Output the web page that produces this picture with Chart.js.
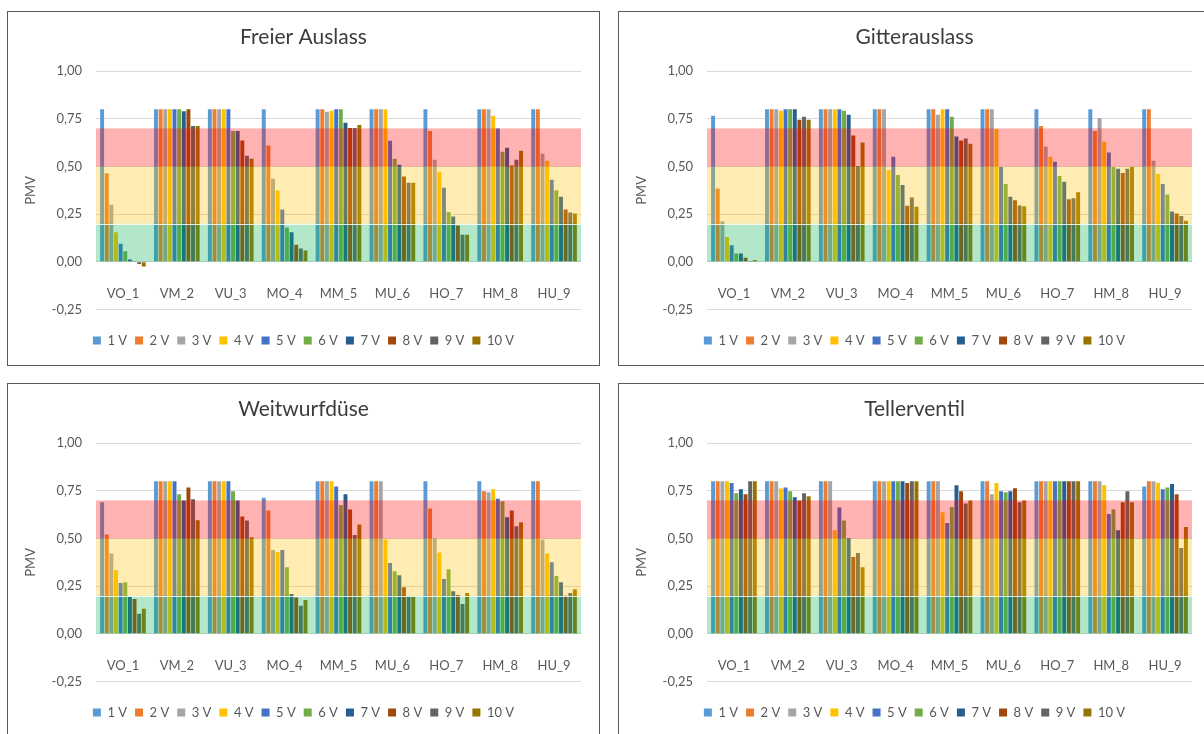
<!DOCTYPE html>
<html>
<head>
<meta charset="utf-8">
<script src="https://cdn.jsdelivr.net/npm/chart.js@4.4.0/dist/chart.umd.min.js"></script>
<style>
  html, body { margin: 0; padding: 0; background: #ffffff; }
  body { width: 1204px; height: 734px; overflow: hidden; position: relative; }
  .panel { position: absolute; width: 593px; height: 355px; box-sizing: border-box; border: 1px solid #595959; background: #fff; }
  .panel canvas { display: block; }
</style>
</head>
<body>
<div class="panel" style="left:7px;top:11px"><canvas id="c1" width="591" height="353"></canvas></div>
<div class="panel" style="left:618px;top:11px"><canvas id="c2" width="591" height="353"></canvas></div>
<div class="panel" style="left:7px;top:383px"><canvas id="c3" width="591" height="353"></canvas></div>
<div class="panel" style="left:618px;top:383px"><canvas id="c4" width="591" height="353"></canvas></div>
<script>
// ---------- data ----------
const categories = ['VO_1', 'VM_2', 'VU_3', 'MO_4', 'MM_5', 'MU_6', 'HO_7', 'HM_8', 'HU_9'];
const seriesNames = ['1 V', '2 V', '3 V', '4 V', '5 V', '6 V', '7 V', '8 V', '9 V', '10 V'];
const yTickLabels = ['-0,25', '0,00', '0,25', '0,50', '0,75', '1,00'];
const zoneLimits = [0, 0.2, 0.5, 0.7];

// rows = categories, columns = 1 V ... 10 V
const freierAuslass = [
  [0.80, 0.465, 0.30, 0.155, 0.095, 0.055, 0.012, 0.004, -0.012, -0.025],
  [0.80, 0.80, 0.80, 0.80, 0.80, 0.80, 0.79, 0.80, 0.713, 0.713],
  [0.80, 0.80, 0.80, 0.80, 0.80, 0.686, 0.686, 0.636, 0.557, 0.541],
  [0.80, 0.61, 0.436, 0.374, 0.275, 0.18, 0.155, 0.09, 0.07, 0.06],
  [0.80, 0.80, 0.787, 0.793, 0.80, 0.80, 0.729, 0.702, 0.702, 0.718],
  [0.80, 0.80, 0.80, 0.80, 0.635, 0.541, 0.509, 0.447, 0.415, 0.415],
  [0.80, 0.686, 0.535, 0.473, 0.388, 0.262, 0.238, 0.19, 0.142, 0.142],
  [0.80, 0.80, 0.80, 0.766, 0.70, 0.578, 0.599, 0.505, 0.535, 0.583],
  [0.80, 0.80, 0.567, 0.530, 0.431, 0.376, 0.342, 0.275, 0.259, 0.254]
];
const gitterauslass = [
  [0.766, 0.385, 0.213, 0.13, 0.087, 0.044, 0.044, 0.021, 0.005, 0.01],
  [0.80, 0.80, 0.80, 0.793, 0.80, 0.80, 0.80, 0.745, 0.761, 0.745],
  [0.80, 0.80, 0.80, 0.80, 0.80, 0.793, 0.771, 0.663, 0.503, 0.626],
  [0.80, 0.80, 0.80, 0.482, 0.551, 0.456, 0.403, 0.294, 0.337, 0.289],
  [0.80, 0.80, 0.771, 0.80, 0.80, 0.761, 0.658, 0.636, 0.647, 0.62],
  [0.80, 0.80, 0.80, 0.697, 0.498, 0.408, 0.342, 0.323, 0.296, 0.291],
  [0.80, 0.713, 0.605, 0.551, 0.525, 0.45, 0.42, 0.328, 0.333, 0.365],
  [0.80, 0.686, 0.755, 0.63, 0.573, 0.498, 0.488, 0.466, 0.488, 0.498],
  [0.80, 0.80, 0.53, 0.461, 0.408, 0.353, 0.264, 0.254, 0.241, 0.216]
];
const weitwurfduese = [
  [0.69, 0.521, 0.422, 0.335, 0.266, 0.271, 0.193, 0.183, 0.105, 0.131],
  [0.80, 0.80, 0.80, 0.80, 0.80, 0.732, 0.70, 0.768, 0.706, 0.596],
  [0.80, 0.80, 0.80, 0.80, 0.80, 0.748, 0.70, 0.615, 0.594, 0.507],
  [0.714, 0.647, 0.44, 0.429, 0.44, 0.349, 0.209, 0.19, 0.147, 0.177],
  [0.80, 0.80, 0.80, 0.80, 0.773, 0.674, 0.732, 0.652, 0.518, 0.574],
  [0.80, 0.80, 0.80, 0.495, 0.371, 0.328, 0.307, 0.245, 0.199, 0.199],
  [0.80, 0.658, 0.502, 0.427, 0.287, 0.339, 0.223, 0.204, 0.156, 0.214],
  [0.80, 0.748, 0.743, 0.759, 0.709, 0.695, 0.612, 0.647, 0.564, 0.585],
  [0.80, 0.80, 0.493, 0.422, 0.376, 0.303, 0.271, 0.20, 0.214, 0.234]
];
const tellerventil = [
  [0.80, 0.80, 0.80, 0.80, 0.791, 0.738, 0.759, 0.732, 0.80, 0.80],
  [0.80, 0.80, 0.80, 0.762, 0.768, 0.748, 0.716, 0.70, 0.738, 0.722],
  [0.80, 0.80, 0.80, 0.543, 0.663, 0.594, 0.502, 0.403, 0.424, 0.349],
  [0.80, 0.80, 0.80, 0.80, 0.80, 0.80, 0.80, 0.791, 0.80, 0.80],
  [0.80, 0.80, 0.80, 0.638, 0.582, 0.665, 0.78, 0.748, 0.684, 0.70],
  [0.80, 0.80, 0.732, 0.791, 0.748, 0.743, 0.748, 0.764, 0.69, 0.70],
  [0.80, 0.80, 0.80, 0.80, 0.80, 0.80, 0.80, 0.80, 0.80, 0.80],
  [0.80, 0.80, 0.80, 0.78, 0.628, 0.654, 0.543, 0.69, 0.748, 0.69],
  [0.773, 0.80, 0.80, 0.793, 0.759, 0.768, 0.786, 0.732, 0.45, 0.56]
];

// ---------- styles ----------
const seriesColors = ['#5B9BD5', '#ED7D31', '#A5A5A5', '#FFC000', '#4472C4', '#70AD47', '#255E91', '#9E480E', '#636363', '#997300'];
const zoneColors = ['rgba(0,176,80,0.3)', 'rgba(255,192,0,0.3)', 'rgba(255,0,0,0.3)'];
const FONT = 'Lato, "Open Sans", sans-serif';
const TEXT = '#595959';

const zonePlugin = {
  id: 'zones',
  afterDatasetsDraw(chart) {
    const { ctx, chartArea: a, scales: { y } } = chart;
    ctx.save();
    for (let i = 0; i < zoneColors.length; i++) {
      const yb = y.getPixelForValue(zoneLimits[i]);
      const yt = y.getPixelForValue(zoneLimits[i + 1]);
      ctx.fillStyle = zoneColors[i];
      ctx.fillRect(a.left, yt, a.right - a.left, yb - yt);
    }
    const yw = Math.round(y.getPixelForValue(zoneLimits[1])) + 0.5;
    ctx.strokeStyle = 'rgba(255,255,255,0.85)';
    ctx.lineWidth = 1;
    ctx.beginPath();
    ctx.moveTo(a.left, yw);
    ctx.lineTo(a.right, yw);
    ctx.stroke();
    ctx.restore();
  }
};

function makeChart(id, title, rows) {
  const datasets = seriesNames.map((name, s) => ({
    label: name,
    data: rows.map(r => r[s]),
    backgroundColor: seriesColors[s],
    borderWidth: 0,
    categoryPercentage: 0.86,
    barPercentage: 0.85
  }));
  return new Chart(document.getElementById(id), {
    type: 'bar',
    data: { labels: categories, datasets },
    options: {
      responsive: false,
      animation: false,
      devicePixelRatio: 1,
      layout: { padding: { left: 8, right: 8, top: 0, bottom: 8 } },
      plugins: {
        title: {
          display: true, text: title, color: '#3c3c3c',
          font: { family: FONT, size: 21, weight: 'normal' },
          padding: { top: 13, bottom: 21 }
        },
        legend: {
          position: 'bottom',
          title: { display: true, text: '', padding: 0, font: { family: FONT, size: 13, lineHeight: 1.27 } },
          labels: {
            boxWidth: 8, boxHeight: 8, padding: 8, color: TEXT,
            font: { family: FONT, size: 13 }
          }
        },
        tooltip: { enabled: false }
      },
      scales: {
        x: {
          position: { y: 0 },
          grid: { display: false },
          border: { display: false },
          ticks: { color: TEXT, font: { family: FONT, size: 13 }, padding: 16, autoSkip: false, maxRotation: 0 }
        },
        y: {
          min: -0.25, max: 1,
          grid: { color: '#d9d9d9', drawTicks: false },
          border: { display: false },
          ticks: {
            stepSize: 0.25, padding: 14, color: TEXT,
            font: { family: FONT, size: 13 },
            callback: (v, i) => yTickLabels[i]
          },
          title: { display: true, text: 'PMV', color: TEXT, font: { family: FONT, size: 13 }, padding: { top: 7, bottom: 0 } },
          afterFit(scale) { scale.width = 80; }
        },
        yRightSpace: {
          position: 'right',
          grid: { display: false },
          border: { display: false },
          ticks: { display: false },
          afterFit(scale) { scale.width = 10; }
        }
      }
    },
    plugins: [zonePlugin]
  });
}

makeChart('c1', 'Freier Auslass', freierAuslass);
makeChart('c2', 'Gitterauslass', gitterauslass);
makeChart('c3', 'Weitwurfdüse', weitwurfduese);
makeChart('c4', 'Tellerventil', tellerventil);
</script>
</body>
</html>
